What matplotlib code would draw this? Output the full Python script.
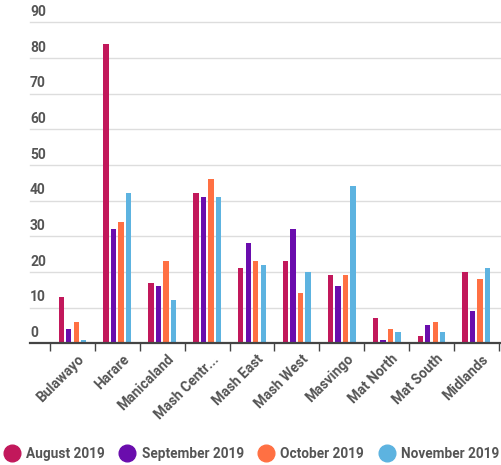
import matplotlib
matplotlib.use('Agg')
import matplotlib.pyplot as plt
from matplotlib.lines import Line2D
import numpy as np

plt.rcParams['font.family'] = ['Roboto', 'DejaVu Sans']

# Data.
provinces = ['Bulawayo', 'Harare', 'Manicaland', 'Mash Centr...', 'Mash East',
             'Mash West', 'Masvingo', 'Mat North', 'Mat South', 'Midlands']
months = ['August 2019', 'September 2019', 'October 2019', 'November 2019']
aug = [13, 84, 17, 42, 21, 23, 19, 7, 2, 20]
sep = [4, 32, 16, 41, 28, 32, 16, 1, 5, 9]
octo = [6, 34, 23, 46, 23, 14, 19, 4, 6, 18]
nov = [1, 42, 12, 41, 22, 20, 44, 3, 3, 21]
yticks = [0, 10, 20, 30, 40, 50, 60, 70, 80, 90]

colors = ['#C2185B', '#6A0DAD', '#FF7043', '#5DB3E0']
series = [aug, sep, octo, nov]
text_col = '#555555'

fig = plt.figure(figsize=(5.02, 4.65), dpi=100)
ax = fig.add_axes([0.06, 0.262, 0.94, 0.69])

x = np.arange(len(provinces)) + 0.5
width = 0.12
pitch = 0.167
for k, vals in enumerate(series):
    ax.bar(x + (k - 1.5) * pitch, vals, width, color=colors[k], zorder=3)

ax.set_ylim(0, 90)
ax.set_xlim(-0.445, 10.07)

# Gridlines with labels sitting above them.
for t in yticks:
    if t > 0:
        ax.axhline(t, color='#dddddd', lw=1, zorder=1, clip_on=False)
    ax.text(0.0, t + 0.9, str(t), transform=ax.get_yaxis_transform(),
            ha='left', va='bottom', fontsize=10, fontweight='bold', color=text_col)
ax.set_yticks([])

# Group boundary ticks on the baseline.
ax.set_xticks(np.arange(len(provinces) + 1), minor=False)
ax.set_xticklabels([])
ax.tick_params(axis='x', length=6, width=1, color='#444444')
for xi, name in zip(x, provinces):
    ax.text(xi + 0.1, -2.5, name, rotation=45, ha='right', va='top',
            rotation_mode='anchor', fontsize=10, fontweight='bold', color=text_col)

for s in ['top', 'right', 'left']:
    ax.spines[s].set_visible(False)
ax.spines['bottom'].set_color('#444444')
ax.spines['bottom'].set_linewidth(1.6)
ax.spines['bottom'].set_zorder(4)

handles = [Line2D([], [], marker='o', ls='', markersize=12, color=c) for c in colors]
leg = fig.legend(handles, months, loc='center', bbox_to_anchor=(0.5, 11 / 465), ncol=4,
                 frameon=False, handletextpad=0.4, columnspacing=1.0, handlelength=1.3,
                 prop={'weight': 'bold', 'size': 9.8})
for t in leg.get_texts():
    t.set_color(text_col)

plt.savefig('out.png', dpi=100)
